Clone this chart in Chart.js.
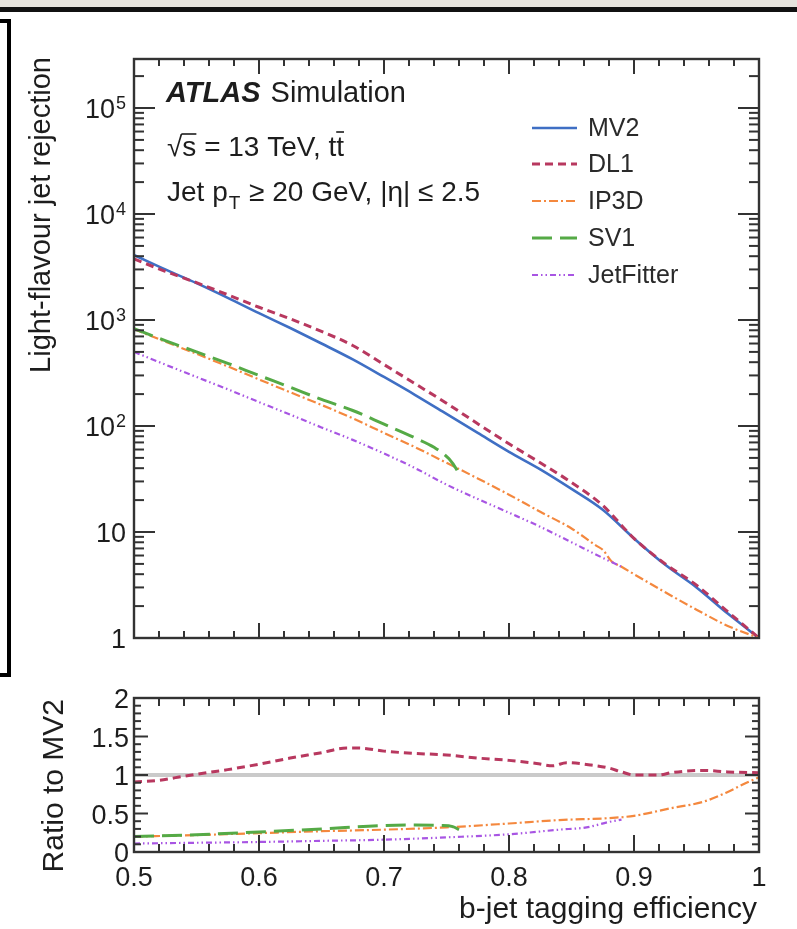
<!DOCTYPE html>
<html>
<head>
<meta charset="utf-8">
<script src="https://cdn.jsdelivr.net/npm/chart.js@4.4.1/dist/chart.umd.min.js"></script>
<style>
  body { margin: 0; background: #fff; width: 797px; height: 929px; overflow: hidden; position: relative; }
  #strip { position: absolute; left: 0; top: 0; width: 797px; height: 7px; background: #e6e3dd; }
  #rule { position: absolute; left: 0; top: 7px; width: 797px; height: 5px; background: #111; }
  #bracket { position: absolute; left: 0; top: 19px; width: 7px; height: 650px; border: 4px solid #000; border-left: none; }
  canvas { position: absolute; left: 0; }
  #main { top: 0; }
  #ratio { top: 680px; }
</style>
</head>
<body>
<div id="strip"></div>
<div id="rule"></div>
<div id="bracket"></div>
<canvas id="main" width="797" height="680"></canvas>
<canvas id="ratio" width="797" height="249"></canvas>
<script>
// light-flavour rejection vs b-jet efficiency
const effMV2 = [0.5, 0.525, 0.55, 0.575, 0.6, 0.625, 0.65, 0.675, 0.7, 0.725, 0.75, 0.775, 0.8, 0.825, 0.85, 0.875, 0.9, 0.925, 0.95, 0.975, 1.0];
const rejMV2 = [4100, 3000, 2230, 1620, 1160, 840, 600, 425, 290, 196, 130, 86, 57, 39, 25.5, 16.2, 8.7, 4.9, 3.0, 1.7, 1.0];
const effDL1 = [0.5, 0.525, 0.55, 0.575, 0.6, 0.625, 0.65, 0.675, 0.7, 0.725, 0.75, 0.775, 0.8, 0.825, 0.85, 0.875, 0.9, 0.925, 0.95, 0.975, 1.0];
const rejDL1 = [3770, 2880, 2250, 1730, 1320, 1025, 780, 575, 380, 250, 164, 105, 68, 45, 29.3, 17.8, 8.7, 5.0, 3.15, 1.77, 1.0];
const effIP3D = [0.5, 0.525, 0.55, 0.575, 0.6, 0.625, 0.65, 0.675, 0.7, 0.725, 0.75, 0.775, 0.8, 0.825, 0.85, 0.87, 0.875, 0.882, 0.89, 0.9, 0.925, 0.95, 0.975, 1.0];
const rejIP3D = [820, 625, 480, 365, 275, 208, 158, 118, 86, 63, 45, 32, 22.5, 15.5, 10.8, 7.4, 6.8, 5.3, 4.7, 4.0, 2.7, 1.85, 1.3, 1.0];
const effSV1 = [0.5, 0.525, 0.55, 0.575, 0.6, 0.625, 0.65, 0.675, 0.7, 0.725, 0.74, 0.752, 0.758, 0.761];
const rejSV1 = [830, 640, 500, 390, 300, 232, 178, 140, 104, 77, 63, 49, 39, 33];
const effJF = [0.5, 0.525, 0.55, 0.575, 0.6, 0.625, 0.65, 0.675, 0.7, 0.725, 0.75, 0.775, 0.8, 0.825, 0.85, 0.875, 0.89];
const rejJF = [500, 380, 290, 222, 168, 128, 97, 74, 55, 40, 28, 20.5, 15.2, 11.2, 8.0, 5.7, 4.7];

// ratio to MV2 (lower panel)
const effRatioDL1 = [0.5, 0.52, 0.535, 0.55, 0.575, 0.6, 0.625, 0.65, 0.67, 0.68, 0.7, 0.725, 0.75, 0.775, 0.8, 0.822, 0.835, 0.846, 0.865, 0.88, 0.89, 0.9, 0.92, 0.93, 0.955, 0.975, 1.0];
const ratioDL1 = [0.91, 0.93, 0.97, 1.01, 1.07, 1.14, 1.22, 1.29, 1.35, 1.35, 1.31, 1.28, 1.26, 1.22, 1.19, 1.15, 1.12, 1.16, 1.13, 1.09, 1.04, 1.0, 1.0, 1.03, 1.06, 1.04, 1.03];
const effRatioIP3D = [0.5, 0.55, 0.6, 0.65, 0.7, 0.75, 0.8, 0.84, 0.88, 0.9, 0.93, 0.955, 0.975, 0.99, 1.0];
const ratioIP3D = [0.20, 0.22, 0.245, 0.27, 0.29, 0.32, 0.37, 0.415, 0.44, 0.47, 0.57, 0.65, 0.78, 0.9, 0.97];
const effRatioSV1 = [0.5, 0.55, 0.6, 0.65, 0.7, 0.725, 0.745, 0.755, 0.76];
const ratioSV1 = [0.20, 0.225, 0.26, 0.30, 0.345, 0.35, 0.345, 0.33, 0.29];
const effRatioJF = [0.5, 0.55, 0.6, 0.65, 0.7, 0.75, 0.8, 0.84, 0.862, 0.88, 0.89];
const ratioJF = [0.11, 0.12, 0.13, 0.145, 0.16, 0.19, 0.23, 0.29, 0.32, 0.39, 0.42];
const effRef = [0.5, 1.0];
const ratioRef = [1, 1];

// tick labels
const xTicks = [0.5, 0.6, 0.7, 0.8, 0.9, 1.0];
const xTickLabels = ['0.5', '0.6', '0.7', '0.8', '0.9', '1'];
const yMainTicks = [1, 10, 100, 1000, 10000, 100000];
const yMainLabels = ['1', '10', '10^2', '10^3', '10^4', '10^5'];
const yRatioTicks = [0, 0.5, 1, 1.5, 2];
const yRatioLabels = ['0', '0.5', '1', '1.5', '2'];

const FONT = '"Liberation Sans", Arial, Helvetica, sans-serif';
const INK = '#1d1d1d';
const FRAME = '#333333';

const styles = {
  MV2:       { color: '#3f6fc4', width: 2.6, dash: [] },
  DL1:       { color: '#b8385f', width: 3, dash: [8, 5] },
  IP3D:      { color: '#f4883e', width: 2.2, dash: [9, 3, 2, 3] },
  SV1:       { color: '#55aa46', width: 3, dash: [20, 8] },
  JetFitter: { color: '#a855e3', width: 2.2, dash: [6, 3, 1.5, 3, 1.5, 3] }
};
const legendOrder = ['MV2', 'DL1', 'IP3D', 'SV1', 'JetFitter'];

function pts(xs, ys) {
  return xs.map((x, i) => ({ x: x, y: ys[i] }));
}

function ds(name, xs, ys, order) {
  const s = styles[name];
  return {
    label: name,
    data: pts(xs, ys),
    borderColor: s.color,
    borderWidth: s.width,
    borderDash: s.dash,
    pointRadius: 0,
    fill: false,
    cubicInterpolationMode: 'monotone',
    order: order
  };
}

// text with optional ^superscript
function drawLabel(ctx, txt, x, y, size, align) {
  const parts = txt.split('^');
  ctx.font = size + 'px ' + FONT;
  const wb = ctx.measureText(parts[0]).width;
  let ws = 0;
  const supSize = Math.round(size * 0.68);
  if (parts[1]) {
    ctx.font = supSize + 'px ' + FONT;
    ws = ctx.measureText(parts[1]).width + 1;
  }
  let x0 = x;
  if (align === 'right') x0 = x - wb - ws;
  else if (align === 'center') x0 = x - (wb + ws) / 2;
  ctx.textAlign = 'left';
  ctx.textBaseline = 'middle';
  ctx.font = size + 'px ' + FONT;
  ctx.fillText(parts[0], x0, y);
  if (parts[1]) {
    ctx.font = supSize + 'px ' + FONT;
    ctx.textBaseline = 'alphabetic';
    ctx.fillText(parts[1], x0 + wb + 1, y - 2);
  }
}

function seg(ctx, x1, y1, x2, y2) {
  ctx.beginPath();
  ctx.moveTo(x1, y1);
  ctx.lineTo(x2, y2);
  ctx.stroke();
}

// frame, inside ticks, labels and texts, ROOT style
function atlasPlugin(cfg) {
  return {
    id: 'atlas',
    afterDraw(chart) {
      const ctx = chart.ctx;
      const a = chart.chartArea;
      const sx = chart.scales.x, sy = chart.scales.y;
      ctx.save();
      ctx.setLineDash([]);
      ctx.globalAlpha = 1;
      ctx.strokeStyle = FRAME;
      ctx.lineWidth = 2;

      for (let i = 0; i <= 25; i++) {
        const p = sx.getPixelForValue(0.5 + i * 0.02);
        const len = (i % 5 === 0) ? cfg.xMajor : cfg.xMinor;
        seg(ctx, p, a.bottom, p, a.bottom - len);
        seg(ctx, p, a.top, p, a.top + len);
      }

      const yt = [];
      if (cfg.log) {
        for (let e = 0; e <= 5; e++) {
          for (let k = 1; k <= 9; k++) {
            const v = k * Math.pow(10, e);
            if (v <= 2.9e5) yt.push([v, k === 1]);
          }
        }
      } else {
        for (let i = 0; i <= 20; i++) yt.push([i * 0.1, i % 5 === 0]);
      }
      yt.forEach(t => {
        const p = sy.getPixelForValue(t[0]);
        const len = t[1] ? cfg.yMajor : cfg.yMinor;
        seg(ctx, a.left, p, a.left + len, p);
        seg(ctx, a.right, p, a.right - len, p);
      });

      ctx.lineWidth = 2.4;
      ctx.strokeRect(a.left, a.top, a.right - a.left, a.bottom - a.top);

      ctx.fillStyle = INK;
      cfg.yTicks.forEach((v, i) => {
        drawLabel(ctx, cfg.yLabels[i], cfg.yLabelRight, sy.getPixelForValue(v) + 3, 27, 'right');
      });

      ctx.save();
      ctx.translate(cfg.yTitleX, cfg.yTitleY);
      ctx.rotate(-Math.PI / 2);
      ctx.font = cfg.yTitleSize + 'px ' + FONT;
      ctx.textAlign = 'right';
      ctx.textBaseline = 'alphabetic';
      ctx.fillText(cfg.yTitle, 0, 0);
      ctx.restore();

      if (cfg.xLabels) {
        xTicks.forEach((v, i) => {
          drawLabel(ctx, xTickLabels[i], sx.getPixelForValue(v), a.bottom + 27, 27, 'center');
        });
        ctx.font = '30px ' + FONT;
        ctx.textAlign = 'right';
        ctx.textBaseline = 'alphabetic';
        ctx.fillText('b-jet tagging efficiency', a.right - 2, a.bottom + 66);
      }

      if (cfg.annotate) {
        ctx.textAlign = 'left';
        ctx.textBaseline = 'alphabetic';
        ctx.font = 'italic bold 29px ' + FONT;
        ctx.fillText('ATLAS', 166, 102);
        const wA = ctx.measureText('ATLAS ').width;
        ctx.font = '29px ' + FONT;
        ctx.fillText('Simulation', 166 + wA + 2, 102);

        ctx.font = '28px ' + FONT;
        let x = 167;
        const b2 = 156;
        const wR = ctx.measureText('\u221A').width;
        const wS = ctx.measureText('s').width;
        ctx.fillText('\u221As = 13 TeV, tt', x, b2);
        ctx.strokeStyle = INK;
        ctx.lineWidth = 1.6;
        const wAll = ctx.measureText('\u221As = 13 TeV, tt').width;
        const wT = ctx.measureText('t').width;
        seg(ctx, x + wR - 1, b2 - 22, x + wR + wS, b2 - 22);
        seg(ctx, x + wAll - wT, b2 - 24, x + wAll, b2 - 24);

        const b3 = 201;
        ctx.font = '28px ' + FONT;
        ctx.fillText('Jet p', x, b3);
        x += ctx.measureText('Jet p').width;
        ctx.font = '19px ' + FONT;
        ctx.fillText('T', x + 1, b3 + 8);
        x += ctx.measureText('T').width + 2;
        ctx.font = '28px ' + FONT;
        ctx.fillText(' \u2265 20 GeV, |\u03B7| \u2264 2.5', x, b3);

        const rows = [128, 164, 201, 238, 275];
        legendOrder.forEach((name, i) => {
          const s = styles[name];
          ctx.save();
          ctx.strokeStyle = s.color;
          ctx.lineWidth = s.width;
          ctx.setLineDash(s.dash);
          seg(ctx, 532, rows[i], 577, rows[i]);
          ctx.restore();
          ctx.fillStyle = '#2a2a2a';
          ctx.font = '25px ' + FONT;
          ctx.textAlign = 'left';
          ctx.textBaseline = 'middle';
          ctx.fillText(name, 588, rows[i] + 1);
        });
      }
      ctx.restore();
    }
  };
}

Chart.defaults.font.family = FONT;

const mainChart = new Chart(document.getElementById('main'), {
  type: 'line',
  data: {
    datasets: [
      ds('MV2', effMV2, rejMV2, 5),
      ds('DL1', effDL1, rejDL1, 4),
      ds('IP3D', effIP3D, rejIP3D, 3),
      ds('SV1', effSV1, rejSV1, 2),
      ds('JetFitter', effJF, rejJF, 1)
    ]
  },
  options: {
    responsive: false,
    animation: false,
    devicePixelRatio: 1,
    layout: { padding: { left: 134, right: 38, top: 59, bottom: 42 } },
    scales: {
      x: { type: 'linear', min: 0.5, max: 1.0, display: false },
      y: { type: 'logarithmic', min: 1, max: 2.9e5, display: false }
    },
    plugins: { legend: { display: false }, tooltip: { enabled: false } }
  },
  plugins: [atlasPlugin({
    log: true, xMajor: 15, xMinor: 7, yMajor: 21, yMinor: 10,
    yTicks: yMainTicks, yLabels: yMainLabels, yLabelRight: 126,
    yTitle: 'Light-flavour jet rejection', yTitleX: 50, yTitleY: 57, yTitleSize: 29,
    xLabels: false, annotate: true
  })]
});

const refSet = {
  label: 'MV2 ref',
  data: pts(effRef, ratioRef),
  borderColor: '#cacaca',
  borderWidth: 4,
  pointRadius: 0,
  order: 10
};

const ratioChart = new Chart(document.getElementById('ratio'), {
  type: 'line',
  data: {
    datasets: [
      refSet,
      ds('DL1', effRatioDL1, ratioDL1, 4),
      ds('IP3D', effRatioIP3D, ratioIP3D, 3),
      ds('SV1', effRatioSV1, ratioSV1, 2),
      ds('JetFitter', effRatioJF, ratioJF, 1)
    ]
  },
  options: {
    responsive: false,
    animation: false,
    devicePixelRatio: 1,
    layout: { padding: { left: 134, right: 38, top: 18, bottom: 77 } },
    scales: {
      x: { type: 'linear', min: 0.5, max: 1.0, display: false },
      y: { type: 'linear', min: 0, max: 2, display: false }
    },
    plugins: { legend: { display: false }, tooltip: { enabled: false } }
  },
  plugins: [atlasPlugin({
    log: false, xMajor: 17, xMinor: 8, yMajor: 14, yMinor: 7,
    yTicks: yRatioTicks, yLabels: yRatioLabels, yLabelRight: 129,
    yTitle: 'Ratio to MV2', yTitleX: 63, yTitleY: 19, yTitleSize: 30,
    xLabels: true, annotate: false
  })]
});
</script>
</body>
</html>
